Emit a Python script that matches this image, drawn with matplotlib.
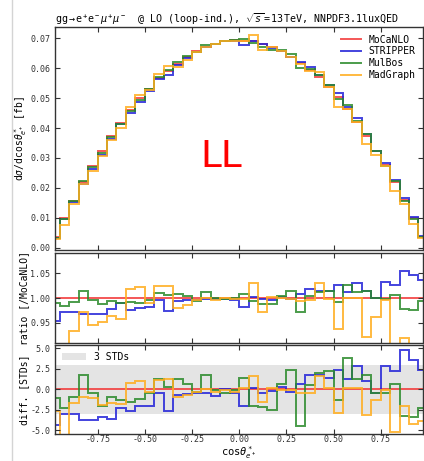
import numpy as np
import matplotlib
matplotlib.use("Agg")
import matplotlib.pyplot as plt
from matplotlib.lines import Line2D

plt.rcParams['font.family'] = ['DejaVu Sans Mono', 'DejaVu Sans']
plt.rcParams['axes.unicode_minus'] = False
plt.rcParams['mathtext.fontset'] = 'custom'
plt.rcParams['mathtext.rm'] = 'DejaVu Sans Mono'
plt.rcParams['mathtext.it'] = 'DejaVu Sans Mono:oblique'
plt.rcParams['mathtext.bf'] = 'DejaVu Sans Mono:bold'

# cos(theta*_e+) binning: 40 bins of width 0.05 on [-1, 1]
edges = np.linspace(-1.0, 1.0, 41)

# MoCaNLO differential cross section [fb]
mocanlo = [0.0034, 0.0099, 0.0157, 0.0219, 0.0272, 0.0322, 0.0373, 0.0418, 0.0461, 0.0499,
           0.0532, 0.0566, 0.0592, 0.0616, 0.0638, 0.0657, 0.0671, 0.0682, 0.0691, 0.0693,
           0.0692, 0.0690, 0.0681, 0.0670, 0.0657, 0.0639, 0.0617, 0.0594, 0.0570, 0.0537,
           0.0503, 0.0464, 0.0420, 0.0375, 0.0323, 0.0275, 0.0220, 0.0158, 0.0099, 0.0036]

# ratios to MoCaNLO
ratio_stripper = [0.953, 0.972, 0.971, 0.967, 0.968, 0.967, 0.978, 0.989, 0.975, 0.979,
                  0.982, 0.996, 0.974, 0.994, 0.996, 0.997, 0.998, 0.999, 0.998, 0.997,
                  0.981, 1.003, 0.998, 0.997, 1.003, 0.998, 1.008, 1.018, 1.015, 1.015,
                  1.026, 1.012, 1.030, 1.015, 1.000, 1.033, 1.027, 1.055, 1.047, 1.037]
ratio_mulbos = [0.989, 0.983, 0.992, 1.015, 0.996, 0.987, 0.993, 0.990, 0.991, 0.990,
                0.996, 1.010, 1.006, 1.008, 1.005, 0.994, 1.012, 1.000, 0.998, 1.000,
                1.008, 0.994, 0.988, 0.988, 1.005, 1.015, 0.972, 1.005, 1.013, 1.015,
                0.991, 1.026, 1.012, 1.015, 1.000, 0.998, 1.007, 0.978, 0.975, 0.994]
ratio_madgraph = [0.820, 0.770, 0.934, 0.971, 0.946, 0.951, 0.964, 0.957, 1.019, 1.023,
                  0.990, 1.025, 1.024, 0.979, 0.985, 0.997, 1.000, 0.997, 1.000, 0.998,
                  0.998, 1.031, 0.972, 1.003, 1.001, 0.998, 0.993, 0.995, 1.031, 0.998,
                  0.938, 1.000, 1.000, 0.922, 0.961, 0.995, 0.860, 0.920, 0.800, 0.900]

# differences to MoCaNLO in units of the combined standard deviation
diff_stripper = [-4.4, -3.0, -3.0, -3.8, -3.8, -3.4, -3.6, -2.3, -2.7, -2.1,
                 -2.0, -0.5, -2.7, -0.7, -0.6, -0.5, -0.5, -0.8, 0.0, -0.5,
                 -2.1, 0.1, -0.4, -0.2, 0.3, -0.3, 0.7, 1.8, 1.8, 1.4,
                 2.3, 1.2, 2.8, 1.0, -0.5, 2.8, 2.2, 4.75, 3.6, 2.4]
diff_mulbos = [-1.1, -2.3, -1.0, 1.8, -0.5, -2.1, -1.0, -1.3, -1.6, -1.2,
               -0.5, 1.2, 0.3, 1.2, 0.7, -0.3, 1.8, -0.1, -0.4, -0.1,
               1.35, -2.1, -2.2, -2.5, 0.7, 2.3, -4.5, 0.5, 2.0, 2.2,
               -1.3, 3.8, 1.2, 1.8, -0.4, -0.5, 0.7, -3.3, -3.4, -2.3]
diff_madgraph = [-2.7, -7.0, -1.7, -0.9, -1.1, -1.9, -1.7, -1.85, 0.8, 1.05,
                 -0.3, 1.15, 1.2, -0.9, -0.7, -0.3, 0.0, -0.3, -0.1, -0.3,
                 0.1, 1.6, -1.5, 0.1, -0.1, -0.15, -0.4, -0.5, 1.6, 0.1,
                 -2.9, 0.1, 0.1, -3.2, -1.3, -0.1, -5.2, -2.1, -4.3, -3.9]

labels = ['MoCaNLO', 'STRIPPER', 'MulBos', 'MadGraph']
colors = ['#f23a3a', '#2323d8', '#2b8a2b', '#ffad1f']

mocanlo = np.array(mocanlo)
ratios = [np.ones_like(mocanlo), np.array(ratio_stripper),
          np.array(ratio_mulbos), np.array(ratio_madgraph)]
diffs = [np.zeros_like(mocanlo), np.array(diff_stripper),
         np.array(diff_mulbos), np.array(diff_madgraph)]

fig = plt.figure(figsize=(4.24, 4.61), dpi=100)
left, width = 0.130, 0.868
ax_main = fig.add_axes([left, 0.4577, width, 0.4843])
ax_ratio = fig.add_axes([left, 0.2566, width, 0.1939])
ax_diff = fig.add_axes([left, 0.0579, width, 0.1937])

lw = 1.4
for lab, col, r in zip(labels, colors, ratios):
    ax_main.stairs(mocanlo * r, edges, color=col, lw=lw, alpha=0.85, label=lab, baseline=None)
for col, r in zip(colors, ratios):
    ax_ratio.stairs(r, edges, color=col, lw=lw, alpha=0.85, baseline=None)
ax_diff.axhspan(-3, 3, color='#dcdcdc', alpha=0.75, lw=0, label='3 STDs')
for col, d in zip(colors, diffs):
    ax_diff.stairs(d, edges, color=col, lw=lw, alpha=0.85, baseline=None)

xlim = (-0.975, 0.975)
for ax in (ax_main, ax_ratio, ax_diff):
    ax.set_xlim(*xlim)
    ax.set_xticks([-0.75, -0.5, -0.25, 0.0, 0.25, 0.5, 0.75])
    ax.tick_params(direction='in', top=True, right=True, labelsize=6,
                   length=3.5, width=0.8, colors='#333333')
    ax.tick_params(axis='x', pad=0.6)
    for sp in ax.spines.values():
        sp.set_linewidth(1.0)
        sp.set_color('#333333')
    ax.yaxis.set_label_coords(-0.07, 0.5)

ax_main.set_ylim(-0.0008, 0.0739)
ax_main.set_yticks(np.arange(0, 0.0701, 0.01))
ax_main.yaxis.set_major_formatter(matplotlib.ticker.FormatStrFormatter('%.2f'))
ax_main.tick_params(labelbottom=False)
ax_main.set_ylabel(r'd$\sigma$/dcos$\theta^*_{e^+}$ [fb]', fontsize=7)
ax_main.set_title(r'$\mathrm{gg}\to\mathrm{e}^+\mathrm{e}^-\mu^+\mu^-$  @ LO (loop-ind.), '
                  r'$\sqrt{s}=13\,$TeV, NNPDF3.1luxQED',
                  loc='left', fontsize=7.2, pad=3)
ax_main.text(-0.095, 0.027, 'LL', color='red', fontsize=27, ha='center', va='baseline',
             family='DejaVu Sans')
ax_main.legend(loc='upper right', frameon=False, fontsize=7, handlelength=2.0,
               labelspacing=0.2, borderaxespad=0.4)

ax_ratio.set_ylim(0.91, 1.09)
ax_ratio.set_yticks([0.95, 1.00, 1.05])
ax_ratio.yaxis.set_major_formatter(matplotlib.ticker.FormatStrFormatter('%.2f'))
ax_ratio.tick_params(labelbottom=False)
ax_ratio.set_ylabel('ratio [/MoCaNLO]', fontsize=7)

ax_diff.set_ylim(-5.5, 5.4)
ax_diff.set_yticks([-5, -2.5, 0, 2.5, 5])
ax_diff.yaxis.set_major_formatter(matplotlib.ticker.FormatStrFormatter('%.1f'))
ax_diff.set_ylabel('diff. [STDs]', fontsize=7)
ax_diff.set_xticklabels(['-0.75', '-0.50', '-0.25', '0.00', '0.25', '0.50', '0.75'])
ax_diff.set_xlabel(r'cos$\theta^*_{e^+}$', fontsize=7.5, va='bottom')
ax_diff.xaxis.set_label_coords(left + width / 2, 0.0, transform=fig.transFigure)
ax_diff.legend(loc='upper left', frameon=False, fontsize=7, handlelength=2.5,
               borderaxespad=0.3)

fig.add_artist(Line2D([12 / 424, 12 / 424], [0, 1], color='#d4d4d4', lw=1.0,
                      transform=fig.transFigure))

fig.savefig('out.png', dpi=100)
